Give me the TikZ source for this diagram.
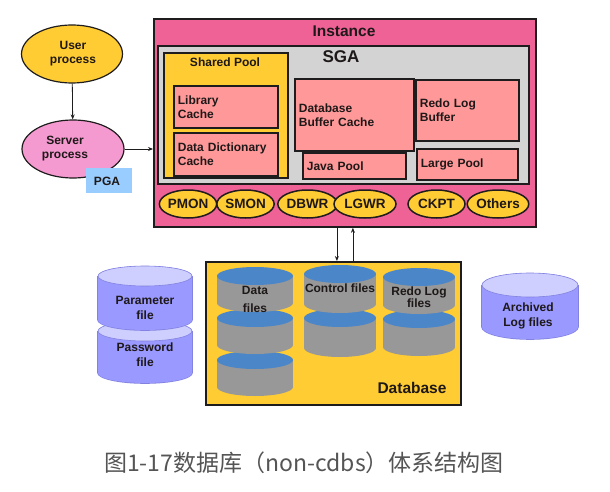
\documentclass[tikz,border=0pt]{standalone}
\usepackage{fontspec}
\setmainfont{Liberation Sans}
\newfontfamily\cjk{Noto Sans CJK SC}
\usetikzlibrary{arrows.meta,shapes.geometric,calc}
\definecolor{instpink}{RGB}{238,98,150}
\definecolor{sgagray}{RGB}{211,211,211}
\definecolor{salmon}{RGB}{255,153,153}
\definecolor{yel}{RGB}{255,204,51}
\definecolor{srvpink}{RGB}{244,154,208}
\definecolor{pgablue}{RGB}{153,204,255}
\definecolor{cylblue}{RGB}{74,134,200}
\definecolor{cylgray}{RGB}{152,152,152}
\definecolor{lav}{RGB}{153,153,255}
\definecolor{lavtop}{RGB}{206,206,255}
\definecolor{lavedge}{RGB}{130,130,225}
\definecolor{edge}{RGB}{30,28,28}
\definecolor{ink}{RGB}{30,24,24}
\definecolor{capgray}{RGB}{85,85,85}
\newcommand\mkcyl[7]{%
  \fill[#6] (#1-#3,#2) rectangle (#1+#3,#2+#5);
  \fill[#6] (#1,#2+#5) ellipse [x radius=#3, y radius=#4];
  \fill[#7] (#1,#2) ellipse [x radius=#3, y radius=#4];}
\newcommand\mklav[5]{%
  \fill[lavedge] (#1-#3-0.8,#2) rectangle (#1+#3+0.8,#2+#5);
  \fill[lavedge] (#1,#2+#5) ellipse [x radius=#3+0.8, y radius=#4+0.8];
  \mkcyl{#1}{#2}{#3}{#4}{#5}{lav}{lav}
  \fill[lavtop, draw=lavedge, line width=0.6] (#1,#2) ellipse [x radius=#3, y radius=#4];}
\tikzset{
  boxnode/.style={draw=edge, line width=1.8, fill=salmon, rectangle, anchor=north west,
     inner sep=0pt, align=left, text=ink, font=\bfseries\fontsize{12}{14}\selectfont},
  procnode/.style={ellipse, draw=edge, line width=1.5, fill=yel, inner sep=0pt,
     minimum height=28pt, text=ink, font=\bfseries\fontsize{13.5}{15}\selectfont},
  lbl/.style={text=ink, inner sep=0pt, align=center, font=\bfseries\fontsize{12}{14}\selectfont},
  arr/.style={-{Stealth[length=5pt,width=4pt]}, line width=0.8, draw=edge},
}
\begin{document}
\begin{tikzpicture}[x=1pt,y=-1pt]
\useasboundingbox[fill=white] (0,0) rectangle (610,492);
% Instance
\node[draw=edge, line width=1.8, fill=instpink, anchor=north west, inner sep=0pt,
      minimum width=382pt, minimum height=208pt] (inst) at (153,18) {};
\node[lbl, font=\bfseries\fontsize{15.5}{17}\selectfont] (insttitle) at (344,31) {Instance};
\node[draw=edge, line width=1.8, fill=sgagray, anchor=north west, inner sep=0pt,
      minimum width=371pt, minimum height=138pt] (sga) at (157,45) {};
\node[lbl, font=\bfseries\fontsize{17}{19}\selectfont] (sgatitle) at (341,57) {SGA};
\node[draw=edge, line width=1.8, fill=yel, anchor=north west, inner sep=0pt,
      minimum width=124pt, minimum height=125pt] (shp) at (163,52) {};
\node[lbl] (shptitle) at (225,62) {Shared Pool};
\node[boxnode, minimum width=104pt, minimum height=42pt, text width=96pt] (lib) at (173,85) {Library\\Cache};
\node[boxnode, minimum width=104pt, minimum height=43pt, text width=96pt] (ddc) at (173,132) {Data Dictionary\\Cache};
\node[boxnode, minimum width=119pt, minimum height=72pt, text width=111pt] (dbbc) at (294,78) {Database\\Buffer Cache};
\node[boxnode, minimum width=103pt, minimum height=61pt, text width=95pt] (rlb) at (415,79) {Redo Log\\Buffer};
\node[boxnode, minimum width=103pt, minimum height=26pt, text width=95pt] (java) at (302,152) {Java Pool};
\node[boxnode, minimum width=101pt, minimum height=31pt, text width=93pt] (large) at (416,148) {Large Pool};
% background processes
\node[procnode, minimum width=57pt] (pmon) at (188,204) {PMON};
\node[procnode, minimum width=55pt] (smon) at (245.5,204) {SMON};
\node[procnode, minimum width=50pt] (dbwr) at (307.5,204) {DBWR};
\node[procnode, minimum width=62pt] (lgwr) at (365,204) {LGWR};
\node[procnode, minimum width=57pt] (ckpt) at (436.5,204) {CKPT};
\node[procnode, minimum width=54pt] (others) at (498,204) {Others};
% user / server
\node[ellipse, draw=edge, line width=1.2, fill=yel, minimum width=101pt, minimum height=58pt, inner sep=0pt] (user) at (72,54) {};
\node[lbl] (usertext) at (73,54) {User\\process};
\node[ellipse, draw=edge, line width=1.2, fill=srvpink, minimum width=102pt, minimum height=58pt, inner sep=0pt] (server) at (73,149) {};
\node[lbl] (servertext) at (65,149) {Server\\process};
\node[fill=pgablue, anchor=north west, inner sep=0pt, minimum width=46pt, minimum height=25pt] (pga) at (86,168) {};
\node[lbl] (pgatext) at (107,181) {PGA};
\draw[arr] (user) -- (server);
\draw[arr] (server.east) -- (server.east -| inst.west);
% Database
\node[draw=edge, line width=1.8, fill=yel, anchor=north west, inner sep=0pt,
      minimum width=255pt, minimum height=143pt] (db) at (205,261) {};
\mkcyl{255}{360}{38}{9}{27}{cylgray}{cylblue}
\mkcyl{255}{318}{38}{9}{27}{cylgray}{cylblue}
\mkcyl{255}{276}{38}{9}{27}{cylgray}{cylblue}
\mkcyl{340}{318}{36}{9}{30}{cylgray}{cylblue}
\mkcyl{340}{274}{36}{9}{30}{cylgray}{cylblue}
\mkcyl{419}{319}{36}{9}{28}{cylgray}{cylblue}
\mkcyl{419}{277}{36}{9}{28}{cylgray}{cylblue}
\node[lbl, font=\bfseries\fontsize{12}{18}\selectfont] (datatext) at (255,299) {Data\\files};
\node[lbl] (ctltext) at (340,288) {Control files};
\node[lbl, font=\bfseries\fontsize{12}{11}\selectfont] (redotext) at (419,297) {Redo Log\\files};
\node[lbl, font=\bfseries\fontsize{15.5}{17}\selectfont] (dbtitle) at (412,388) {Database};
\draw[arr] ([xshift=-8pt]inst.south) -- ([xshift=-8pt]inst.south |- db.north);
\draw[arr] ([xshift=8pt]inst.south |- db.north) -- ([xshift=8pt]inst.south);
% side files
\mklav{145}{331}{47}{10}{42}
\mklav{145}{276}{47}{10}{44}
\node[lbl, font=\bfseries\fontsize{12}{15}\selectfont] (parmtext) at (145,308) {Parameter\\file};
\node[lbl, font=\bfseries\fontsize{12}{15}\selectfont] (pwdtext) at (145,355) {Password\\file};
\mklav{530}{285}{48}{12}{42}
\node[lbl, font=\bfseries\fontsize{12}{15}\selectfont] (archtext) at (528,316) {Archived\\Log files};
% caption
\node[text=capgray, inner sep=0pt, font=\cjk\fontsize{23}{25}\selectfont] (caption) at (304,463) {图1-17数据库（non-cdbs）体系结构图};
\end{tikzpicture}
\end{document}
